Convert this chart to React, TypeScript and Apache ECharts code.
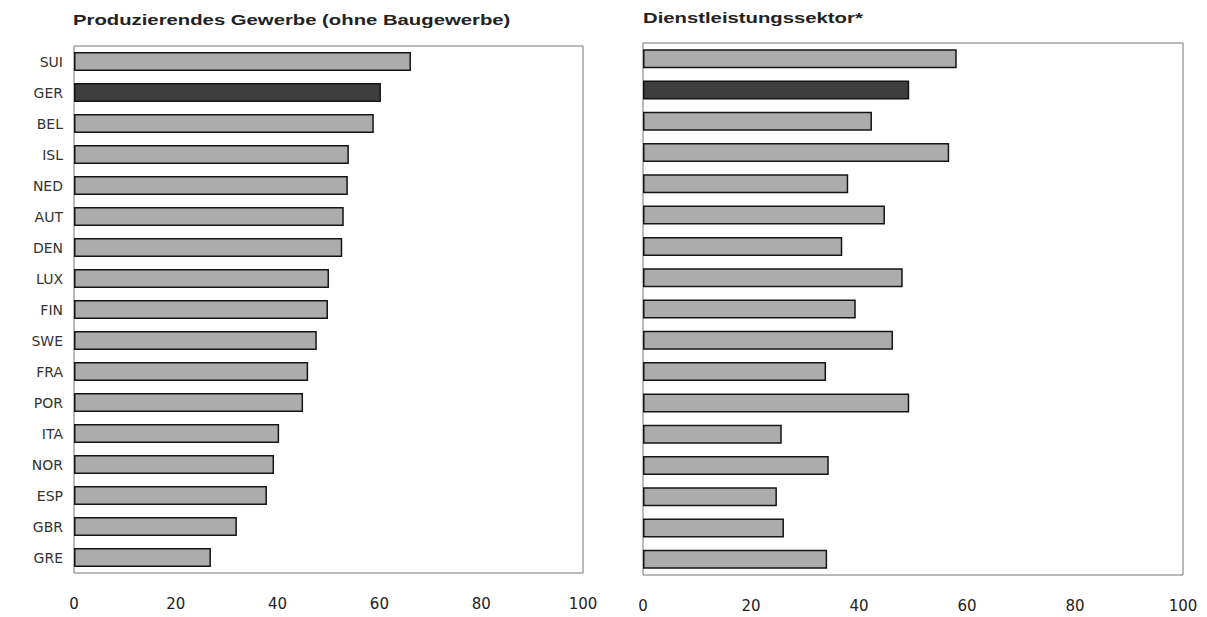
import React, { useEffect, useRef } from "react";
import * as echarts from "echarts";

const countries = ["SUI", "GER", "BEL", "ISL", "NED", "AUT", "DEN", "LUX", "FIN", "SWE", "FRA", "POR", "ITA", "NOR", "ESP", "GBR", "GRE"];
const industryValues = [66.2, 60.3, 58.9, 54.0, 53.8, 53.0, 52.7, 50.1, 49.9, 47.7, 46.0, 45.0, 40.3, 39.3, 37.9, 32.0, 26.9];
const servicesValues = [58.1, 49.3, 42.4, 56.7, 38.0, 44.8, 36.9, 48.1, 39.4, 46.3, 33.9, 49.3, 25.7, 34.4, 24.8, 26.1, 34.1];
const highlight = "GER";
const leftTitle = "Produzierendes Gewerbe (ohne Baugewerbe)";
const rightTitle = "Dienstleistungssektor*";

function barData(values: number[]) {
  return values.map((v, i) => ({
    value: v,
    itemStyle: {
      color: countries[i] === highlight ? "#3e3e3e" : "#acacac",
      borderColor: "#151515",
      borderWidth: 1.5,
    },
  }));
}

export default function App() {
  const ref = useRef<HTMLDivElement>(null);
  useEffect(() => {
    if (!ref.current) return;
    const chart = echarts.init(ref.current, null, { renderer: "svg" });
    const xAxisCommon = {
      type: "value" as const,
      min: 0,
      max: 100,
      interval: 20,
      axisLine: { show: false },
      axisTick: { show: false },
      splitLine: { show: false },
      axisLabel: { color: "#222", fontSize: 15, fontFamily: "'DejaVu Sans', sans-serif", margin: 23 },
    };
    chart.setOption({
      animation: false,
      backgroundColor: "#ffffff",
      graphic: [
        {
          type: "text",
          x: 73,
          y: 20,
          scaleX: 1.45,
          style: {
            text: leftTitle,
            font: "bold 14px 'Liberation Sans', Arial, sans-serif",
            fill: "#222",
            verticalAlign: "middle",
            align: "left",
          },
        },
        {
          type: "text",
          x: 643,
          y: 18,
          scaleX: 1.45,
          style: {
            text: rightTitle,
            font: "bold 14px 'Liberation Sans', Arial, sans-serif",
            fill: "#222",
            verticalAlign: "middle",
            align: "left",
          },
        },
      ],
      grid: [
        { left: 74, right: 624, top: 46, bottom: 44, show: true, borderColor: "#777", borderWidth: 1, backgroundColor: "transparent" },
        { left: 643, right: 24, top: 43, bottom: 42, show: true, borderColor: "#777", borderWidth: 1, backgroundColor: "transparent" },
      ],
      xAxis: [
        { ...xAxisCommon, gridIndex: 0 },
        { ...xAxisCommon, gridIndex: 1 },
      ],
      yAxis: [
        {
          type: "category",
          gridIndex: 0,
          data: countries,
          inverse: true,
          axisLine: { show: false },
          axisTick: { show: false },
          axisLabel: { color: "#333", fontSize: 14, fontFamily: "'DejaVu Sans', sans-serif", margin: 11 },
        },
        {
          type: "category",
          gridIndex: 1,
          data: countries,
          inverse: true,
          axisLine: { show: false },
          axisTick: { show: false },
          axisLabel: { show: false },
        },
      ],
      series: [
        { type: "bar", xAxisIndex: 0, yAxisIndex: 0, barWidth: 19, data: barData(industryValues) },
        { type: "bar", xAxisIndex: 1, yAxisIndex: 1, barWidth: 19, data: barData(servicesValues) },
      ],
    });
    return () => chart.dispose();
  }, []);
  return <div ref={ref} style={{ position: "absolute", left: 0, top: 0, width: 1207, height: 617 }} />;
}
